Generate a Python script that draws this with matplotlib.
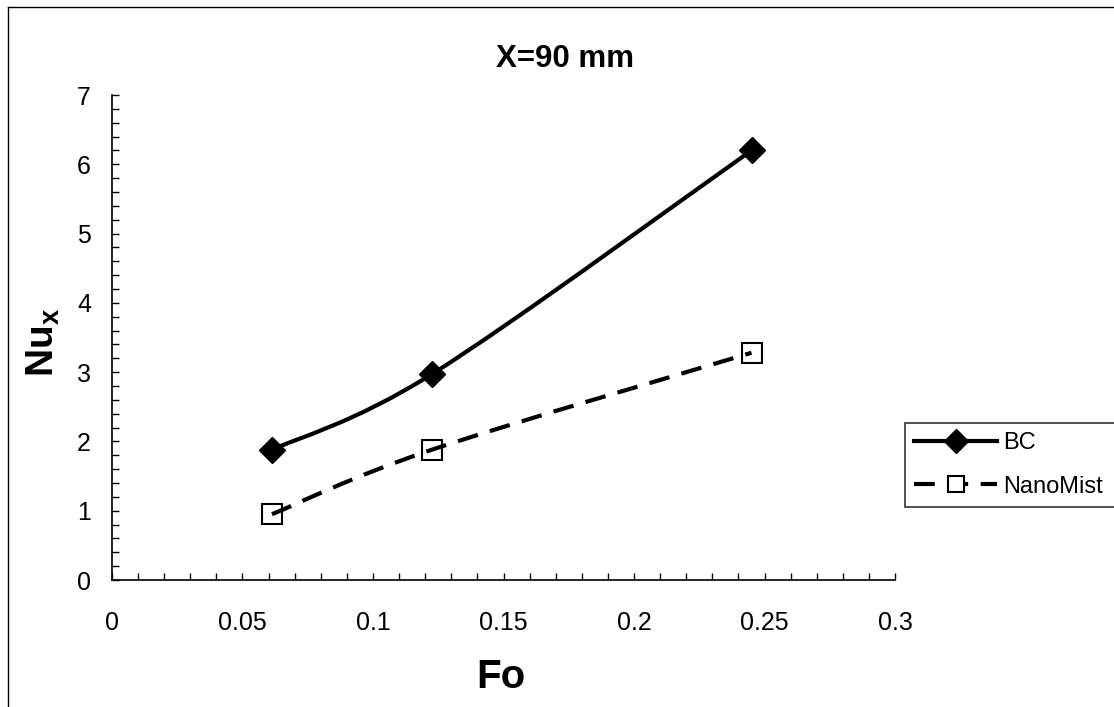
import matplotlib
matplotlib.use('Agg')
import matplotlib.pyplot as plt
from matplotlib.path import Path
from matplotlib.patches import PathPatch
from matplotlib.lines import Line2D
from matplotlib.ticker import MultipleLocator, FuncFormatter

plt.rcParams['font.family'] = ['Liberation Sans', 'DejaVu Sans']

# данные
fo = [0.0613, 0.1225, 0.245]
nu_bc = [1.88, 2.97, 6.2]
nu_nano = [0.95, 1.88, 3.28]
x_ticks = [0, 0.05, 0.1, 0.15, 0.2, 0.25, 0.3]
y_ticks = [0, 1, 2, 3, 4, 5, 6, 7]


def smooth_path(xs, ys):
    '''Сглаженная линия как в Excel (кривые Безье через точки)'''
    pts = list(zip(xs, ys))
    n = len(pts)
    verts = [pts[0]]
    codes = [Path.MOVETO]
    for i in range(n - 1):
        p0 = pts[max(i - 1, 0)]
        p1 = pts[i]
        p2 = pts[i + 1]
        p3 = pts[min(i + 2, n - 1)]
        c1 = (p1[0] + (p2[0] - p0[0]) / 6, p1[1] + (p2[1] - p0[1]) / 6)
        c2 = (p2[0] - (p3[0] - p1[0]) / 6, p2[1] - (p3[1] - p1[1]) / 6)
        verts += [c1, c2, p2]
        codes += [Path.CURVE4] * 3
    return Path(verts, codes)


fig = plt.figure(figsize=(11.14, 7.07), dpi=100)
ax = fig.add_axes([0.1005, 0.1796, 0.703, 0.686])

lw = 3
ax.add_patch(PathPatch(smooth_path(fo, nu_bc), fill=False, edgecolor='black',
                       linewidth=lw, zorder=3))
ax.add_patch(PathPatch(smooth_path(fo, nu_nano), fill=False, edgecolor='black',
                       linewidth=lw, linestyle=(0, (5, 3)), zorder=3))
ax.plot(fo, nu_bc, linestyle='none', marker='D', markersize=13,
        color='black', zorder=4)
ax.plot(fo, nu_nano, linestyle='none', marker='s', markersize=14,
        markerfacecolor='white', markeredgecolor='black', markeredgewidth=1.5,
        zorder=2)

ax.set_xlim(0, 0.3)
ax.set_ylim(0, 7)
ax.set_xticks(x_ticks)
ax.set_yticks(y_ticks)
ax.xaxis.set_minor_locator(MultipleLocator(0.01))
ax.yaxis.set_minor_locator(MultipleLocator(0.2))
ax.xaxis.set_major_formatter(FuncFormatter(lambda v, p: '%g' % v))
ax.tick_params(which='both', direction='in', length=5, width=1, colors='black')
ax.tick_params(axis='x', which='major', labelsize=18, pad=22)
ax.tick_params(axis='y', which='major', labelsize=18, pad=15)

for side in ['top', 'right']:
    ax.spines[side].set_visible(False)
for side in ['left', 'bottom']:
    ax.spines[side].set_linewidth(1.2)

ax.set_xlabel('Fo', fontsize=29, fontweight='bold')
ax.xaxis.set_label_coords(0.497, -0.16)
ax.set_ylabel(r'Nu$_\mathregular{x}$', fontsize=28, fontweight='bold')
ax.yaxis.set_label_coords(-0.088, 0.49)
ax.yaxis.label.set_va('center')

ax.set_title('X=90 mm', fontsize=22.5, fontweight='bold', x=0.578, y=1.041)

handles = [
    Line2D([], [], color='black', linewidth=lw, marker='D', markersize=12),
    Line2D([], [], color='black', linewidth=lw, linestyle=(0, (5, 3)), marker='s',
           markersize=12, markerfacecolor='white', markeredgewidth=1.5),
]
leg = fig.legend(handles, ['BC', 'NanoMist'], loc='upper left',
                 bbox_to_anchor=(905 / 1114, 1 - 508 / 707, 0.25, 85 / 707),
                 mode='expand', fontsize=17,
                 handlelength=3.5, frameon=True, fancybox=False,
                 edgecolor='black', borderaxespad=0, handletextpad=0.25,
                 labelspacing=0.9, borderpad=0.4)
leg.get_frame().set_linewidth(1.2)

# рамка вокруг диаграммы
fig.add_artist(Line2D([0.007, 0.007], [0, 0.99], color='black', linewidth=1,
                      transform=fig.transFigure))
fig.add_artist(Line2D([0.007, 1], [0.99, 0.99], color='black', linewidth=1,
                      transform=fig.transFigure))

fig.savefig('out.png', dpi=100)
